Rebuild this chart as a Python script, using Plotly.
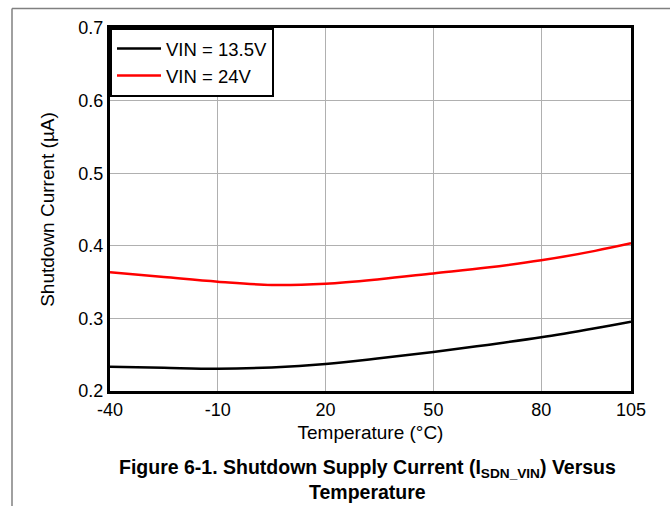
import plotly.graph_objects as go

temps = [-40, -25, -10, 5, 20, 35, 50, 65, 80, 95, 105]
i_13v5 = [0.2335, 0.2320, 0.2307, 0.2325, 0.2372, 0.2450, 0.2537, 0.2635, 0.2740, 0.2865, 0.2955]
i_24v = [0.3635, 0.3570, 0.3506, 0.3460, 0.3478, 0.3540, 0.3620, 0.3700, 0.3800, 0.3930, 0.4034]
x_ticks = [-40, -10, 20, 50, 80, 105]
y_ticks = [0.2, 0.3, 0.4, 0.5, 0.6, 0.7]

W, H = 670, 506
L, R, T, B = 110, 39, 28, 115
pw, ph = W - L - R, H - T - B

def px(x):
    return (x - L) / pw

def py(y):
    return (H - B - y) / ph

font = "Liberation Sans, Arial, sans-serif"

fig = go.Figure()
fig.add_trace(go.Scatter(x=temps, y=i_13v5, mode="lines", name="VIN = 13.5V",
                         line=dict(color="black", width=2.5, shape="spline", smoothing=1.0)))
fig.add_trace(go.Scatter(x=temps, y=i_24v, mode="lines", name="VIN = 24V",
                         line=dict(color="#ff0000", width=2.5, shape="spline", smoothing=1.0)))

fig.update_layout(
    width=W, height=H,
    margin=dict(l=L, r=R, t=T, b=B),
    paper_bgcolor="white", plot_bgcolor="white",
    font=dict(family=font, size=18, color="black"),
    showlegend=True,
    legend=dict(x=0, y=1, xanchor="left", yanchor="top",
                bordercolor="black", borderwidth=2, bgcolor="white",
                font=dict(size=18.5), tracegroupgap=0, itemwidth=44),
    xaxis=dict(range=[-40, 105], tickvals=x_ticks, ticktext=[str(v) for v in x_ticks],
               showgrid=True, gridcolor="#b0b0b0", gridwidth=1,
               showline=True, linecolor="black", linewidth=3, mirror=True,
               ticks="", zeroline=False, tickfont=dict(size=18),
               title=dict(text="Temperature (°C)", font=dict(size=19), standoff=8)),
    yaxis=dict(range=[0.2, 0.7], tickvals=y_ticks, tickformat=".1f",
               showgrid=True, gridcolor="#b0b0b0", gridwidth=1,
               showline=True, linecolor="black", linewidth=3, mirror=True,
               ticks="", zeroline=False, tickfont=dict(size=18),
               title=dict(text="Shutdown Current (µA)", font=dict(size=19), standoff=19)),
)

fig.add_annotation(xref="paper", yref="paper", x=px(367), y=py(468),
                   text="<b>Figure 6-1. Shutdown Supply Current (I<sub>SDN_VIN</sub>) Versus</b>",
                   showarrow=False, font=dict(size=19.5, family=font), xanchor="center", yanchor="middle")
fig.add_annotation(xref="paper", yref="paper", x=px(367), y=py(492),
                   text="<b>Temperature</b>",
                   showarrow=False, font=dict(size=19.5, family=font), xanchor="center", yanchor="middle")

# page frame
fig.add_shape(type="line", xref="paper", yref="paper", x0=px(12), x1=px(670), y0=py(8.5), y1=py(8.5),
              line=dict(color="#808080", width=1.5))
fig.add_shape(type="line", xref="paper", yref="paper", x0=px(12), x1=px(12), y0=py(8.5), y1=py(506),
              line=dict(color="#808080", width=1.5))

fig.write_html("out.html", config={"displayModeBar": False},
               post_script="document.body.style.margin='0';document.body.style.overflow='hidden';")
